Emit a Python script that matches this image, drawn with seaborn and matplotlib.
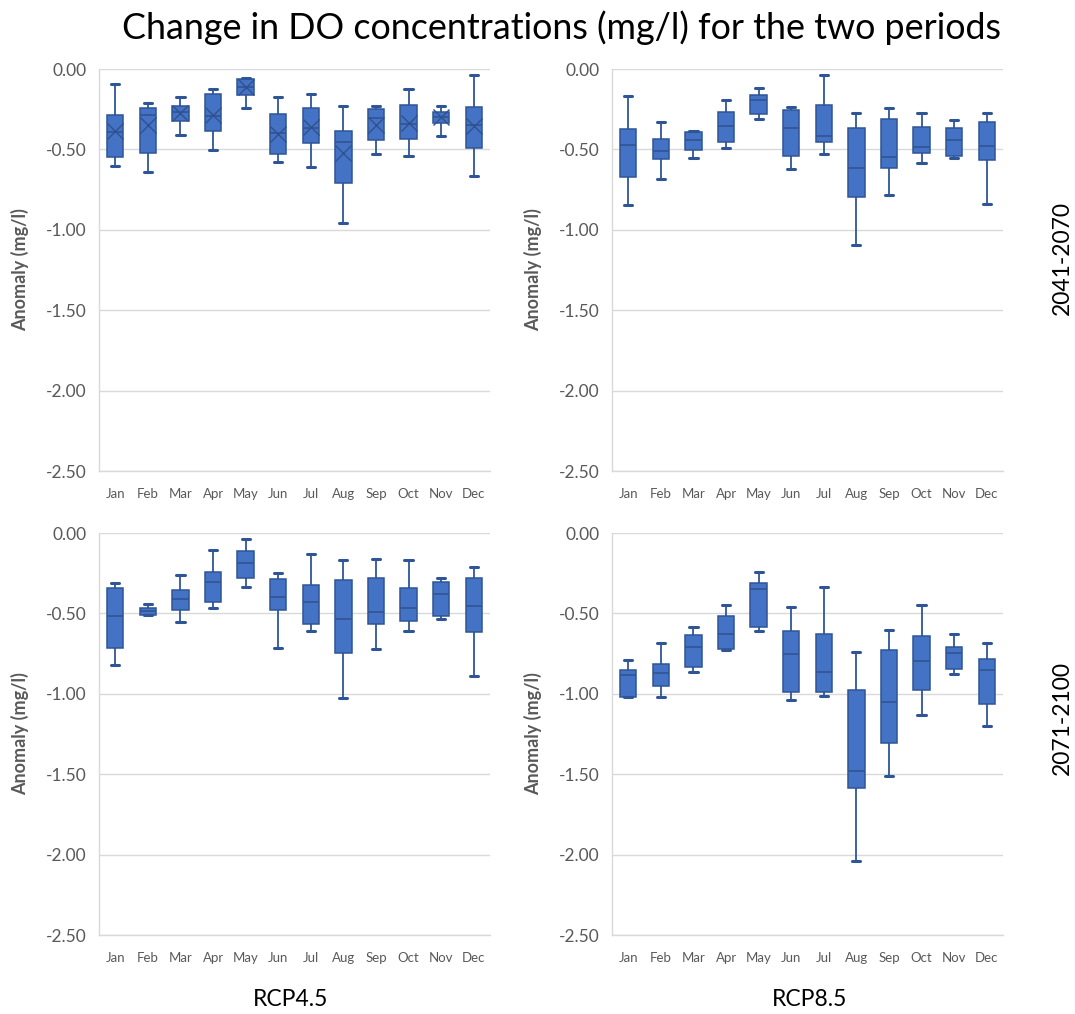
import numpy as np
import pandas as pd
import matplotlib
matplotlib.use("Agg")
import matplotlib.pyplot as plt
import seaborn as sns

months = ["Jan", "Feb", "Mar", "Apr", "May", "Jun", "Jul", "Aug", "Sep", "Oct", "Nov", "Dec"]

# RCP4.5, 2041-2070
tl_low = [-0.605, -0.638, -0.408, -0.503, -0.244, -0.578, -0.611, -0.957, -0.526, -0.541, -0.415, -0.665]
tl_q1 = [-0.547, -0.520, -0.325, -0.383, -0.161, -0.528, -0.462, -0.712, -0.443, -0.437, -0.334, -0.490]
tl_med = [-0.390, -0.286, -0.270, -0.290, -0.110, -0.400, -0.364, -0.455, -0.306, -0.340, -0.300, -0.350]
tl_q3 = [-0.288, -0.242, -0.228, -0.157, -0.062, -0.282, -0.242, -0.385, -0.250, -0.222, -0.265, -0.236]
tl_high = [-0.095, -0.211, -0.172, -0.126, -0.054, -0.172, -0.153, -0.232, -0.232, -0.122, -0.232, -0.037]
tl_mean = [-0.385, -0.348, -0.275, -0.286, -0.114, -0.404, -0.358, -0.524, -0.348, -0.337, -0.300, -0.355]

# RCP8.5, 2041-2070
tr_low = [-0.845, -0.681, -0.551, -0.493, -0.311, -0.623, -0.526, -1.097, -0.785, -0.584, -0.551, -0.839]
tr_q1 = [-0.669, -0.561, -0.501, -0.453, -0.277, -0.540, -0.453, -0.793, -0.613, -0.520, -0.540, -0.565]
tr_med = [-0.472, -0.509, -0.439, -0.354, -0.193, -0.369, -0.414, -0.615, -0.545, -0.484, -0.439, -0.478]
tr_q3 = [-0.373, -0.433, -0.391, -0.269, -0.159, -0.257, -0.224, -0.369, -0.311, -0.360, -0.369, -0.329]
tr_high = [-0.166, -0.329, -0.383, -0.193, -0.116, -0.238, -0.037, -0.271, -0.244, -0.271, -0.317, -0.271]

# RCP4.5, 2071-2100
bl_low = [-0.824, -0.508, -0.556, -0.467, -0.337, -0.715, -0.610, -1.027, -0.719, -0.607, -0.533, -0.889]
bl_q1 = [-0.715, -0.508, -0.481, -0.430, -0.279, -0.481, -0.566, -0.748, -0.566, -0.550, -0.518, -0.616]
bl_med = [-0.517, -0.483, -0.411, -0.302, -0.184, -0.401, -0.426, -0.537, -0.492, -0.464, -0.379, -0.454]
bl_q3 = [-0.341, -0.465, -0.353, -0.244, -0.114, -0.283, -0.326, -0.295, -0.277, -0.344, -0.305, -0.280]
bl_high = [-0.308, -0.440, -0.262, -0.107, -0.037, -0.246, -0.132, -0.171, -0.159, -0.170, -0.280, -0.210]

# RCP8.5, 2071-2100
br_low = [-1.023, -1.020, -0.866, -0.727, -0.610, -1.039, -1.012, -2.038, -1.509, -1.130, -0.876, -1.200]
br_q1 = [-1.023, -0.950, -0.832, -0.723, -0.585, -0.990, -0.990, -1.588, -1.308, -0.977, -0.847, -1.062]
br_med = [-0.880, -0.870, -0.707, -0.628, -0.349, -0.754, -0.864, -1.482, -1.049, -0.798, -0.744, -0.849]
br_q3 = [-0.851, -0.816, -0.634, -0.519, -0.308, -0.610, -0.630, -0.975, -0.725, -0.640, -0.711, -0.781]
br_high = [-0.791, -0.682, -0.585, -0.446, -0.240, -0.461, -0.337, -0.740, -0.601, -0.446, -0.630, -0.682]

y_ticks = [0.0, -0.5, -1.0, -1.5, -2.0, -2.5]
y_tick_labels = ["0.00", "-0.50", "-1.00", "-1.50", "-2.00", "-2.50"]

title = "Change in DO concentrations (mg/l) for the two periods"
col_labels = ["RCP4.5", "RCP8.5"]
row_labels = ["2041-2070", "2071-2100"]
ylab = "Anomaly (mg/l)"


def to_long(low, q1, med, q3, high):
    rows = []
    for i, m in enumerate(months):
        for v in (low[i], q1[i], med[i], q3[i], high[i]):
            rows.append({"month": m, "value": v})
    return pd.DataFrame(rows)


sns.set_theme(style="white")
plt.rcParams["font.family"] = ["Lato", "DejaVu Sans"]

W, H = 1075, 1014
fig = plt.figure(figsize=(W / 100, H / 100), dpi=100)

BOX = "#4472C4"
EDGE = "#2F5597"
GRID = "#D9D9D9"
TXT = "#595959"


def px_axes(left, top, right, bottom):
    return fig.add_axes([left / W, 1 - bottom / H, (right - left) / W, (bottom - top) / H])


panels = [
    (px_axes(99, 69, 490, 471), to_long(tl_low, tl_q1, tl_med, tl_q3, tl_high), True),
    (px_axes(612, 69, 1003, 471), to_long(tr_low, tr_q1, tr_med, tr_q3, tr_high), False),
    (px_axes(99, 533, 490, 935), to_long(bl_low, bl_q1, bl_med, bl_q3, bl_high), False),
    (px_axes(612, 533, 1003, 935), to_long(br_low, br_q1, br_med, br_q3, br_high), False),
]

for ax, df, show_mean in panels:
    ax.set_facecolor("white")
    sns.boxplot(data=df, x="month", y="value", order=months, ax=ax,
                color=BOX, saturation=1, width=0.5, whis=(0, 100),
                linecolor=EDGE, linewidth=1.1, fliersize=0,
                medianprops=dict(color="#2F528F", linewidth=1.1),
                whiskerprops=dict(color=EDGE, linewidth=1.3),
                capprops=dict(color=EDGE, linewidth=2.2))
    if show_mean:
        mdf = pd.DataFrame({"month": months, "value": tl_mean})
        sns.pointplot(data=mdf, x="month", y="value", order=months, ax=ax,
                      errorbar=None, color="#2F528F", linestyle="none",
                      marker="x", markersize=11, markeredgewidth=1.0)
    ax.set_ylim(-2.5, 0.0)
    ax.set_xlim(-0.5, 11.5)
    ax.set_yticks(y_ticks)
    ax.set_yticklabels(y_tick_labels)
    ax.set_xticks(range(len(months)))
    ax.set_xticklabels(months)
    ax.set_xticks(np.arange(-0.5, 12, 1.0), minor=True)
    ax.grid(axis="y", color=GRID, linewidth=1.0)
    ax.grid(axis="x", visible=False)
    ax.set_axisbelow(True)
    for s in ("top", "right"):
        ax.spines[s].set_visible(False)
    for s in ("left", "bottom"):
        ax.spines[s].set_color(GRID)
        ax.spines[s].set_linewidth(1.0)
    ax.tick_params(axis="y", length=0, pad=9, labelsize=12.5, labelcolor=TXT)
    ax.tick_params(axis="x", which="major", length=0, pad=12, labelsize=9.5, labelcolor=TXT)
    ax.tick_params(axis="x", which="minor", length=5, color=GRID, width=1.0, direction="out")
    ax.set_xlabel("")
    ax.set_ylabel(ylab, fontsize=13, fontweight="bold", color=TXT)
    ax.yaxis.set_label_coords(-0.178, 0.5)

fig.text(561 / W, 1 - 28 / H, title, ha="center", va="center", fontsize=25.8, color="black")
fig.text(291 / W, 1 - 1000 / H, col_labels[0], ha="center", va="center", fontsize=16.5, color="black")
fig.text(810 / W, 1 - 1000 / H, col_labels[1], ha="center", va="center", fontsize=16.5, color="black")
fig.text(1062 / W, 1 - 258 / H, row_labels[0], ha="center", va="center", rotation=90, fontsize=16.5, color="black")
fig.text(1062 / W, 1 - 718 / H, row_labels[1], ha="center", va="center", rotation=90, fontsize=16.5, color="black")

fig.savefig("out.png", dpi=100, facecolor="white")
